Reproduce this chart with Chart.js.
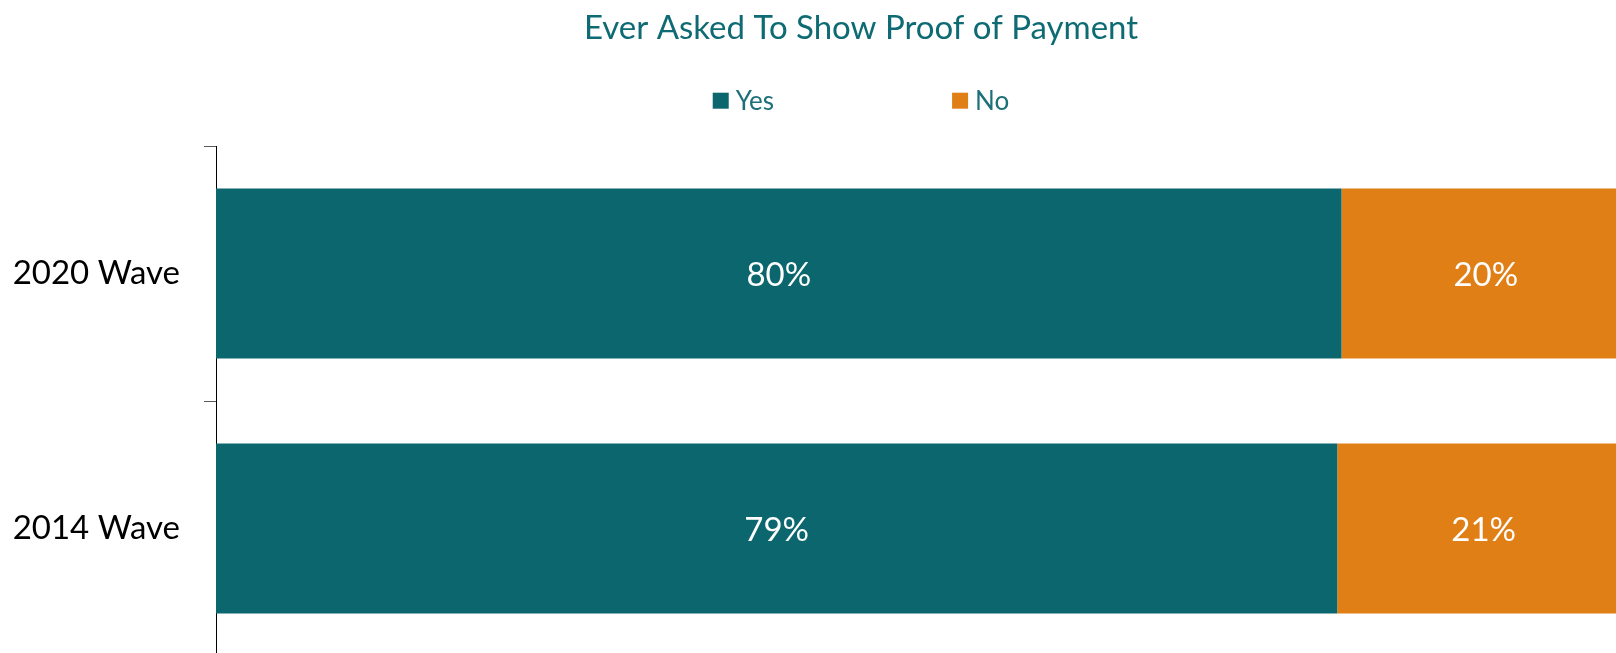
<!DOCTYPE html>
<html>
<head>
<meta charset="utf-8">
<script src="https://cdn.jsdelivr.net/npm/chart.js@4"></script>
<style>
  html, body { margin: 0; padding: 0; background: #fff; overflow: hidden; }
  #wrap { width: 1654px; height: 656px; }
</style>
</head>
<body>
<div id="wrap"><canvas id="proof-chart" width="1654" height="656"></canvas></div>
<script>
const waves    = ["2020 Wave", "2014 Wave"];
const yesShare = [79.6, 79.3];   // % answering Yes
const noShare  = [20.4, 20.7];   // % answering No

const TEAL   = "#0B666E";
const ORANGE = "#E07F16";
const FONT   = "Lato, 'Open Sans', sans-serif";

// Nudge the title box in from the left so title + legend sit a bit right of centre
const titleInset = {
  id: "titleInset",
  afterLayout(chart, args, opts) {
    chart.titleBlock.left = opts.left;
  }
};

// Legend drawn by hand so the two entries can sit far apart
const spacedLegend = {
  id: "spacedLegend",
  afterDraw(chart, args, opts) {
    const ctx = chart.ctx;
    const title = chart.titleBlock;
    ctx.save();
    ctx.font = `${opts.size}px ${FONT}`;
    ctx.textBaseline = "middle";
    const items = chart.data.datasets.map(ds => ({
      text: ds.label,
      color: ds.backgroundColor,
      w: opts.box + opts.gap + ctx.measureText(ds.label).width
    }));
    const total = items.reduce((s, it) => s + it.w, 0) + opts.spacing * (items.length - 1);
    let x = (title.left + title.right) / 2 - total / 2;
    items.forEach(it => {
      ctx.fillStyle = it.color;
      ctx.fillRect(x, opts.y - opts.box / 2, opts.box, opts.box);
      ctx.fillStyle = opts.color;
      ctx.fillText(it.text, x + opts.box + opts.gap, opts.y + 1);
      x += it.w + opts.spacing;
    });
    ctx.restore();
  }
};

// Percent labels in the middle of each segment
const segmentLabels = {
  id: "segmentLabels",
  afterDatasetsDraw(chart) {
    const ctx = chart.ctx;
    ctx.save();
    ctx.font = `33px ${FONT}`;
    ctx.fillStyle = "#fff";
    ctx.textAlign = "center";
    ctx.textBaseline = "middle";
    chart.data.datasets.forEach((ds, i) => {
      chart.getDatasetMeta(i).data.forEach((bar, j) => {
        const p = bar.getCenterPoint();
        ctx.fillText(Math.round(ds.data[j]) + "%", p.x, p.y + 2);
      });
    });
    ctx.restore();
  }
};

new Chart(document.getElementById("proof-chart"), {
  type: "bar",
  data: {
    labels: waves,
    datasets: [
      { label: "Yes", data: yesShare, backgroundColor: TEAL },
      { label: "No",  data: noShare,  backgroundColor: ORANGE }
    ]
  },
  options: {
    indexAxis: "y",
    responsive: false,
    animation: false,
    layout: { padding: { left: 0, right: 24, top: 0, bottom: 0 } },
    datasets: { bar: { categoryPercentage: 1, barPercentage: 0.667, borderWidth: 0 } },
    plugins: {
      title: {
        display: true,
        text: "Ever Asked To Show Proof of Payment",
        color: "#0E6B73",
        font: { family: FONT, size: 33, weight: "normal", lineHeight: 1.2 },
        padding: { top: 9, bottom: 97.4 }
      },
      legend: { display: false },
      tooltip: { enabled: false },
      titleInset: { left: 92 },
      spacedLegend: { y: 100.7, size: 26, box: 16, gap: 7, spacing: 178, color: "#1D6F78" }
    },
    scales: {
      x: { stacked: true, min: 0, max: 100, display: false },
      y: {
        stacked: true,
        afterFit: scale => {
          // axis line lands at x=216; no extra room reserved above/below for labels
          scale.width = 216;
          scale.paddingTop = 0;
          scale.paddingBottom = 0;
        },
        ticks: { color: "#000", padding: 24, font: { family: FONT, size: 33 } },
        grid: { offset: true, drawOnChartArea: false, tickLength: 12, color: "#595959" },
        border: { display: true, color: "#000", width: 1 }
      }
    }
  },
  plugins: [titleInset, spacedLegend, segmentLabels]
});
</script>
</body>
</html>
